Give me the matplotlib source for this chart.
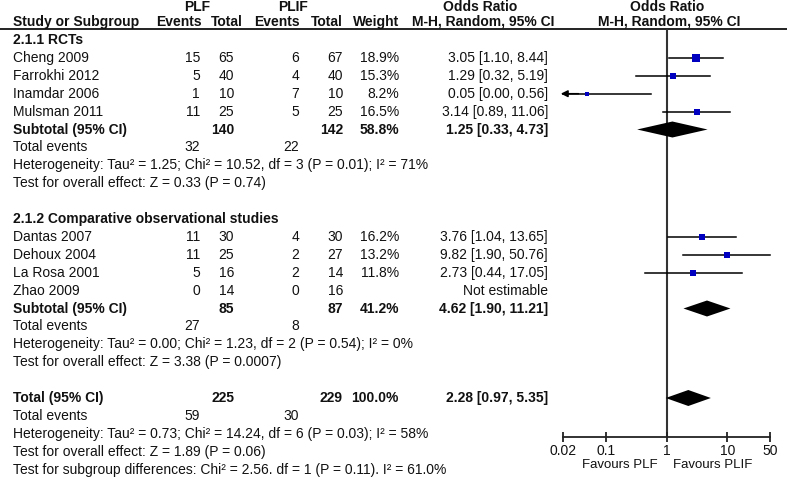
import matplotlib
matplotlib.use('Agg')
import matplotlib.pyplot as plt

plt.rcParams['font.family'] = ['Liberation Sans', 'DejaVu Sans']

# ---------------- data ----------------
g1_title = '2.1.1 RCTs'
g1_studies = ['Cheng 2009', 'Farrokhi 2012', 'Inamdar 2006', 'Mulsman 2011']
g1_plf_events = [15, 5, 1, 11]
g1_plf_total = [65, 40, 10, 25]
g1_plif_events = [6, 4, 7, 5]
g1_plif_total = [67, 40, 10, 25]
g1_weight = [18.9, 15.3, 8.2, 16.5]
g1_or = [3.05, 1.29, 0.05, 3.14]
g1_lo = [1.10, 0.32, 0.00, 0.89]
g1_hi = [8.44, 5.19, 0.56, 11.06]
g1_sub_totals = [140, 142]
g1_sub_weight = 58.8
g1_sub_or = [1.25, 0.33, 4.73]
g1_events = [32, 22]
g1_het = 'Heterogeneity: Tau² = 1.25; Chi² = 10.52, df = 3 (P = 0.01); I² = 71%'
g1_test = 'Test for overall effect: Z = 0.33 (P = 0.74)'

g2_title = '2.1.2 Comparative observational studies'
g2_studies = ['Dantas 2007', 'Dehoux 2004', 'La Rosa 2001', 'Zhao 2009']
g2_plf_events = [11, 11, 5, 0]
g2_plf_total = [30, 25, 16, 14]
g2_plif_events = [4, 2, 2, 0]
g2_plif_total = [30, 27, 14, 16]
g2_weight = [16.2, 13.2, 11.8, None]
g2_or = [3.76, 9.82, 2.73, None]
g2_lo = [1.04, 1.90, 0.44, None]
g2_hi = [13.65, 50.76, 17.05, None]
g2_sub_totals = [85, 87]
g2_sub_weight = 41.2
g2_sub_or = [4.62, 1.90, 11.21]
g2_events = [27, 8]
g2_het = 'Heterogeneity: Tau² = 0.00; Chi² = 1.23, df = 2 (P = 0.54); I² = 0%'
g2_test = 'Test for overall effect: Z = 3.38 (P = 0.0007)'

tot_totals = [225, 229]
tot_weight = 100.0
tot_or = [2.28, 0.97, 5.35]
tot_events = [59, 30]
tot_het = 'Heterogeneity: Tau² = 0.73; Chi² = 14.24, df = 6 (P = 0.03); I² = 58%'
tot_test = 'Test for overall effect: Z = 1.89 (P = 0.06)'
tot_sub = 'Test for subgroup differences: Chi² = 2.56. df = 1 (P = 0.11). I² = 61.0%'

tick_vals = [0.02, 0.1, 1, 10, 50]
tick_labels = ['0.02', '0.1', '1', '10', '50']
fav_left = 'Favours PLF'
fav_right = 'Favours PLIF'

# ---------------- layout ----------------
W, H = 787, 486
FS = 10
TXT = '#111111'
BLUE = '#0000c0'
x_name = 13
x_e1, x_t1, x_e2, x_t2, x_w, x_or = 200, 234, 299, 343, 399, 548
row0, step = 40, 17.9
ax_left, ax_right, ax_top, ax_bot = 563, 770, 29, 437

def ry(i):
    return row0 + step * i

fig = plt.figure(figsize=(W / 100, H / 100), dpi=100)
fig.patch.set_facecolor('white')
at = fig.add_axes([0, 0, 1, 1])
at.set_xlim(0, W)
at.set_ylim(H, 0)
at.axis('off')

fa = fig.add_axes([ax_left / W, (H - ax_bot) / H, (ax_right - ax_left) / W, (ax_bot - ax_top) / H])
fa.set_facecolor('none')
fa.set_xscale('log')
fa.set_xlim(tick_vals[0], tick_vals[-1])
fa.set_ylim(ax_bot, ax_top)
for s in ['top', 'left', 'right']:
    fa.spines[s].set_visible(False)
fa.spines['bottom'].set_linewidth(1.3)
fa.spines['bottom'].set_color('#222222')
fa.set_yticks([])
fa.set_xticks(tick_vals)
fa.set_xticklabels(tick_labels)
fa.xaxis.set_minor_locator(matplotlib.ticker.NullLocator())
fa.tick_params(axis='x', direction='inout', length=7, width=1.3, color='#222222',
               labelsize=FS, pad=1.5, labelcolor=TXT)
fa.axvline(1, color='#333333', lw=1.5, zorder=1)


def t(x, y, s, ha='left', bold=False):
    at.text(x, y, s, ha=ha, va='center', fontsize=FS, color=TXT,
            fontweight='bold' if bold else 'normal')


# headers
at.text(197, 7, 'PLF', ha='center', va='center', fontsize=FS, fontweight='bold', color=TXT)
at.text(293, 7, 'PLIF', ha='center', va='center', fontsize=FS, fontweight='bold', color=TXT)
at.text(480, 7, 'Odds Ratio', ha='center', va='center', fontsize=FS, fontweight='bold', color=TXT)
at.text(667, 7, 'Odds Ratio', ha='center', va='center', fontsize=FS, fontweight='bold', color=TXT)
t(x_name, 22, 'Study or Subgroup', bold=True)
t(202, 22, 'Events', ha='right', bold=True)
t(243, 22, 'Total', ha='right', bold=True)
t(300, 22, 'Events', ha='right', bold=True)
t(343, 22, 'Total', ha='right', bold=True)
t(399, 22, 'Weight', ha='right', bold=True)
t(554, 22, 'M-H, Random, 95% CI', ha='right', bold=True)
at.text(669, 22, 'M-H, Random, 95% CI', ha='center', va='center', fontsize=FS, fontweight='bold', color=TXT)
at.plot([0, W], [ax_top, ax_top], color='#222222', lw=1.4)


def study_rows(start, names, e1, n1, e2, n2, w, orv, lo, hi):
    for k in range(len(names)):
        y = ry(start + k)
        t(x_name, y, names[k])
        t(x_e1, y, str(e1[k]), ha='right')
        t(x_t1, y, str(n1[k]), ha='right')
        t(x_e2, y, str(e2[k]), ha='right')
        t(x_t2, y, str(n2[k]), ha='right')
        if orv[k] is None:
            t(x_or, y, 'Not estimable', ha='right')
            continue
        t(x_w, y, f'{w[k]:.1f}%', ha='right')
        t(x_or, y, f'{orv[k]:.2f} [{lo[k]:.2f}, {hi[k]:.2f}]', ha='right')
        xmin, xmax = fa.get_xlim()
        right = min(hi[k], xmax)
        if lo[k] < xmin:
            fa.plot([xmin, right], [y, y], color='black', lw=1.1, clip_on=False)
            fa.annotate('', xy=(xmin * 0.92, y), xytext=(xmin * 1.8, y),
                        arrowprops=dict(arrowstyle='-|>', color='black', lw=1.1,
                                        mutation_scale=10, shrinkA=0, shrinkB=0),
                        annotation_clip=False)
        else:
            fa.plot([lo[k], right], [y, y], color='black', lw=1.1, clip_on=False)
        side_px = 2.5 + w[k] * 0.24
        fa.plot(orv[k], y, 's', ms=side_px / 1.389, color=BLUE, mec=BLUE, mew=0, zorder=3)


def diamond(y, orv):
    est, lo, hi = orv
    fa.fill([lo, est, hi, est], [y, y - 8, y, y + 8], color='black', lw=0, zorder=3)


def summary(i, label, totals, weight, orv):
    y = ry(i)
    t(x_name, y, label, bold=True)
    t(x_t1, y, str(totals[0]), ha='right', bold=True)
    t(x_t2, y, str(totals[1]), ha='right', bold=True)
    t(x_w, y, f'{weight:.1f}%', ha='right', bold=True)
    t(x_or, y, f'{orv[0]:.2f} [{orv[1]:.2f}, {orv[2]:.2f}]', ha='right', bold=True)
    diamond(y, orv)


def events_rows(i, ev, het, test):
    t(x_name, ry(i), 'Total events')
    t(x_e1, ry(i), str(ev[0]), ha='right')
    t(x_e2, ry(i), str(ev[1]), ha='right')
    t(x_name, ry(i + 1), het)
    t(x_name, ry(i + 2), test)


# group 1
t(x_name, ry(0), g1_title, bold=True)
study_rows(1, g1_studies, g1_plf_events, g1_plf_total, g1_plif_events, g1_plif_total,
           g1_weight, g1_or, g1_lo, g1_hi)
summary(5, 'Subtotal (95% CI)', g1_sub_totals, g1_sub_weight, g1_sub_or)
events_rows(6, g1_events, g1_het, g1_test)

# group 2
t(x_name, ry(10), g2_title, bold=True)
study_rows(11, g2_studies, g2_plf_events, g2_plf_total, g2_plif_events, g2_plif_total,
           g2_weight, g2_or, g2_lo, g2_hi)
summary(15, 'Subtotal (95% CI)', g2_sub_totals, g2_sub_weight, g2_sub_or)
events_rows(16, g2_events, g2_het, g2_test)

# overall
summary(20, 'Total (95% CI)', tot_totals, tot_weight, tot_or)
events_rows(21, tot_events, tot_het, tot_test)
t(x_name, ry(24), tot_sub)

at.text(658, 465, fav_left, ha='right', va='center', fontsize=9.5, color=TXT)
at.text(673, 465, fav_right, ha='left', va='center', fontsize=9.5, color=TXT)

fig.savefig('out.png', dpi=100, facecolor='white')
